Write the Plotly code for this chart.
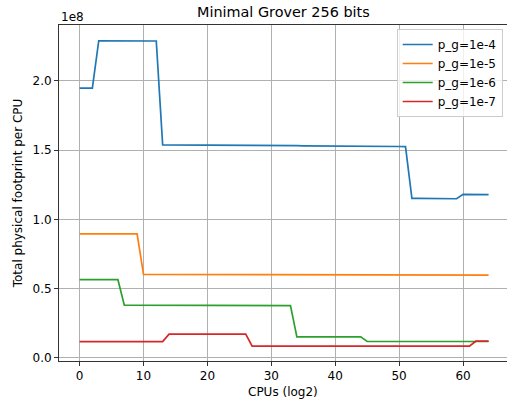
import plotly.graph_objects as go

cpus_log2 = list(range(65))

series_names = ["p_g=1e-4", "p_g=1e-5", "p_g=1e-6", "p_g=1e-7"]

footprint_1e4 = [
    194.7e6, 194.7e6, 194.7e6,
    228.9e6, 228.9e6, 228.9e6, 228.8e6, 228.8e6, 228.8e6, 228.8e6, 228.7e6, 228.7e6, 228.7e6,
    153.7e6, 153.7e6, 153.7e6, 153.6e6, 153.6e6, 153.6e6, 153.6e6, 153.5e6, 153.5e6, 153.5e6,
    153.5e6, 153.4e6, 153.4e6, 153.4e6, 153.4e6, 153.3e6, 153.3e6, 153.3e6, 153.3e6, 153.2e6,
    153.2e6, 153.2e6, 153.1e6, 153.1e6, 153.1e6, 153.0e6, 153.0e6, 153.0e6, 152.9e6, 152.9e6,
    152.9e6, 152.8e6, 152.8e6, 152.8e6, 152.7e6, 152.7e6, 152.6e6, 152.6e6, 152.5e6,
    115.2e6, 115.2e6, 115.2e6, 115.1e6, 115.1e6, 115.1e6, 115.0e6, 114.9e6,
    118.1e6, 118.1e6, 118.0e6, 118.0e6, 117.9e6,
]

footprint_1e5 = [
    89.5e6, 89.5e6, 89.5e6, 89.5e6, 89.5e6, 89.5e6, 89.5e6, 89.5e6, 89.5e6, 89.5e6,
    60.3e6, 60.3e6, 60.3e6, 60.3e6, 60.3e6, 60.3e6, 60.3e6, 60.3e6, 60.3e6, 60.3e6,
    60.2e6, 60.2e6, 60.2e6, 60.2e6, 60.2e6, 60.2e6, 60.2e6, 60.2e6, 60.2e6, 60.2e6,
    60.1e6, 60.1e6, 60.1e6, 60.1e6, 60.1e6, 60.1e6, 60.1e6, 60.1e6, 60.1e6, 60.1e6,
    60.0e6, 60.0e6, 60.0e6, 60.0e6, 60.0e6, 60.0e6, 60.0e6, 60.0e6, 60.0e6, 60.0e6,
    59.9e6, 59.9e6, 59.9e6, 59.9e6, 59.9e6, 59.9e6, 59.9e6, 59.9e6, 59.9e6, 59.9e6,
    59.8e6, 59.8e6, 59.8e6, 59.8e6, 59.8e6,
]

footprint_1e6 = [
    56.5e6, 56.5e6, 56.5e6, 56.5e6, 56.5e6, 56.5e6, 56.5e6,
    38.1e6, 38.1e6, 38.1e6, 38.1e6, 38.1e6, 38.1e6, 38.1e6, 38.1e6, 38.1e6,
    38.0e6, 38.0e6, 38.0e6, 38.0e6, 38.0e6, 38.0e6, 38.0e6, 38.0e6, 38.0e6,
    37.8e6, 37.8e6, 37.8e6, 37.8e6, 37.8e6, 37.8e6, 37.8e6, 37.8e6, 37.8e6,
    15.2e6, 15.2e6, 15.2e6, 15.2e6, 15.2e6, 15.2e6, 15.2e6, 15.2e6, 15.2e6, 15.2e6, 15.2e6,
    11.9e6, 11.9e6, 11.9e6, 11.9e6, 11.9e6, 11.9e6, 11.9e6, 11.9e6, 11.9e6, 11.9e6,
    11.9e6, 11.9e6, 11.9e6, 11.9e6, 11.9e6, 11.9e6, 11.9e6, 11.9e6, 11.9e6, 11.9e6,
]

footprint_1e7 = [
    11.8e6, 11.8e6, 11.8e6, 11.8e6, 11.8e6, 11.8e6, 11.8e6, 11.8e6, 11.8e6, 11.8e6,
    11.8e6, 11.8e6, 11.8e6, 11.8e6,
    17.2e6, 17.2e6, 17.2e6, 17.2e6, 17.2e6, 17.2e6, 17.2e6, 17.2e6, 17.2e6, 17.2e6,
    17.2e6, 17.2e6, 17.2e6,
    8.5e6, 8.5e6, 8.5e6, 8.5e6, 8.5e6, 8.5e6, 8.5e6, 8.5e6, 8.5e6, 8.5e6,
    8.5e6, 8.5e6, 8.5e6, 8.5e6, 8.5e6, 8.5e6, 8.5e6, 8.5e6, 8.5e6, 8.5e6,
    8.5e6, 8.5e6, 8.5e6, 8.5e6, 8.5e6, 8.5e6, 8.5e6, 8.5e6, 8.5e6, 8.5e6,
    8.5e6, 8.5e6, 8.5e6, 8.5e6, 8.5e6,
    12.1e6, 12.1e6, 12.1e6,
]

x_ticks = [0, 10, 20, 30, 40, 50, 60]
y_ticks = [0.0, 0.5e8, 1.0e8, 1.5e8, 2.0e8]
y_tick_labels = ["0.0", "0.5", "1.0", "1.5", "2.0"]

colors = ["#1f77b4", "#ff7f0e", "#2ca02c", "#d62728"]
all_series = [footprint_1e4, footprint_1e5, footprint_1e6, footprint_1e7]

FONT = "DejaVu Sans"

fig = go.Figure()
for name, ys, c in zip(series_names, all_series, colors):
    fig.add_trace(go.Scatter(x=cpus_log2, y=ys, mode="lines", name=name,
                             line=dict(color=c, width=1.7)))

W, H = 507, 403
L, T, B, R = 59, 25, 42, 0
pw = W - L - R
ph = H - T - B

def px_to_paper_x(px):
    return (px - L) / pw

def px_to_paper_y(py):
    return (H - B - py) / ph

fig.update_layout(
    width=W, height=H,
    margin=dict(l=L, r=R, t=T, b=B, pad=0, autoexpand=False),
    paper_bgcolor="white", plot_bgcolor="white",
    font=dict(family=FONT, size=12, color="black"),
    showlegend=True,
    legend=dict(x=px_to_paper_x(502.7), y=px_to_paper_y(29), xanchor="right", yanchor="top",
                bgcolor="rgba(255,255,255,0.8)", bordercolor="#cccccc", borderwidth=1,
                font=dict(family=FONT, size=12, color="black"), tracegroupgap=0),
    xaxis=dict(range=[-3.22, 66.88], tickvals=x_ticks, showgrid=True, gridcolor="#b0b0b0",
               gridwidth=1, zeroline=False, showline=True, linecolor="#333333", linewidth=1,
               mirror=True, ticks="outside", ticklen=4, tickcolor="#333333",
               tickfont=dict(family=FONT, size=12, color="black")),
    yaxis=dict(range=[-0.0217e8, 2.4026e8], tickvals=y_ticks, ticktext=y_tick_labels,
               showgrid=True, gridcolor="#b0b0b0", gridwidth=1, zeroline=False,
               showline=True, linecolor="#333333", linewidth=1,
               ticks="outside", ticklen=4, tickcolor="#333333",
               tickfont=dict(family=FONT, size=12, color="black")),
    annotations=[
        dict(text="Minimal Grover 256 bits", xref="paper", yref="paper",
             x=px_to_paper_x(283.9), y=px_to_paper_y(12), xanchor="center", yanchor="middle",
             showarrow=False, font=dict(family=FONT, size=14.4, color="black")),
        dict(text="1e8", xref="paper", yref="paper", x=px_to_paper_x(58.5), y=px_to_paper_y(17.3),
             xanchor="left", yanchor="middle", showarrow=False,
             font=dict(family=FONT, size=12, color="black")),
        dict(text="CPUs (log2)", xref="paper", yref="paper", x=px_to_paper_x(282.7),
             y=px_to_paper_y(391.5), xanchor="center", yanchor="middle", showarrow=False,
             font=dict(family=FONT, size=12, color="black")),
        dict(text="Total physical footprint per CPU", xref="paper", yref="paper",
             x=px_to_paper_x(18.3), y=px_to_paper_y(193), xanchor="center", yanchor="middle",
             textangle=-90, showarrow=False, font=dict(family=FONT, size=12, color="black")),
    ],
)

fig.write_html("out.html", config={"displayModeBar": False},
               post_script="document.body.style.margin='0px';document.body.style.overflow='hidden';")
